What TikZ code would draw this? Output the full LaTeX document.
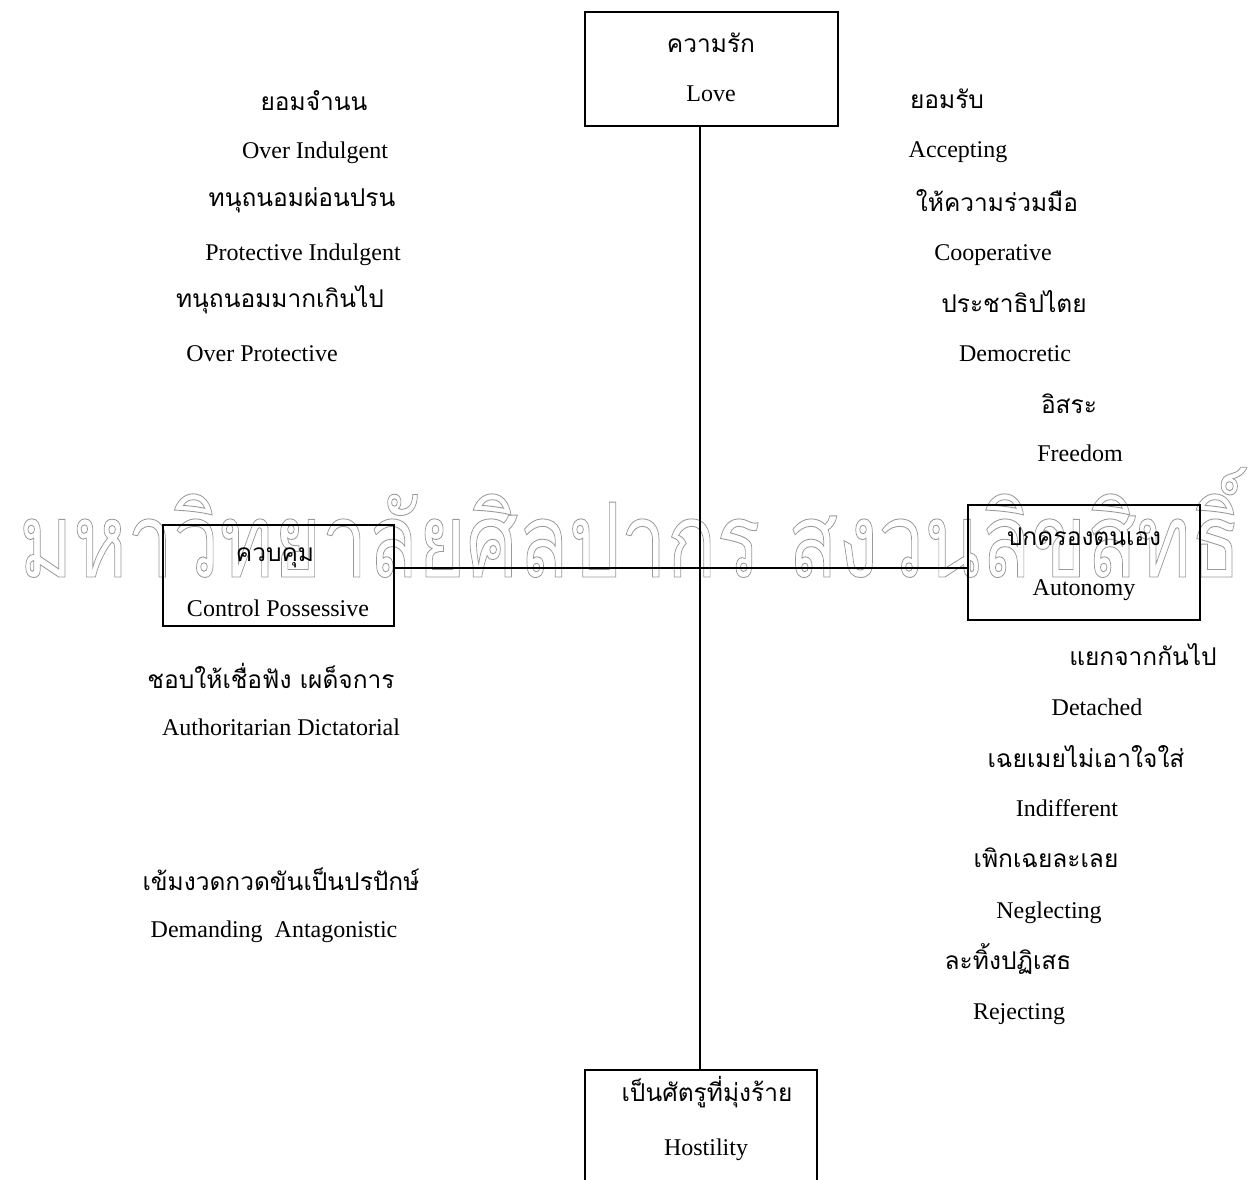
\documentclass[tikz,border=0pt]{standalone}
\usepackage{fontspec}
\usepackage{graphicx}
\setmainfont{Liberation Serif}
\newfontfamily\thai[Script=Thai]{Loma}
\newfontfamily\wmfont[Script=Thai]{Loma}
\newcommand\outlinetext[1]{\special{pdf:literal direct 1 Tr 1.2 w}#1\special{pdf:literal direct 0 Tr}}
\tikzset{
  box/.style={draw, line width=2.4pt, rectangle, inner sep=0pt},
  en/.style={font=\fontsize{24}{28}\selectfont, inner sep=0pt, anchor=base, yshift=-8pt},
  th/.style={font=\thai\fontsize{24.5}{28}\selectfont, inner sep=0pt, anchor=center},
  axis/.style={line width=2.2pt}
}
\begin{document}
\begin{tikzpicture}[x=1pt,y=-1pt]
\useasboundingbox (0,0) rectangle (1248,1180);
% watermark
\node[inner sep=0pt, anchor=base, text=black!40] (wm) at (630,577)
  {\outlinetext{\resizebox{1222pt}{0.74\height}{\wmfont\fontsize{140}{140}\selectfont มหาวิทยาลัยศิลปากร สงวนลิขสิทธิ์}}};
% boxes
\node[box, minimum width=253pt, minimum height=114pt] (love) at (711.5,69) {};
\node[box, minimum width=231pt, minimum height=101pt] (control) at (278.5,575.5) {};
\node[box, minimum width=232pt, minimum height=115pt] (autonomy) at (1084,562.5) {};
\node[box, minimum width=232pt, minimum height=160pt, anchor=north] (hostility) at (701,1069) {};
% axes
\coordinate (vx) at (700,0);
\coordinate (hy) at (0,568);
\draw[axis] (vx |- love.south) -- (vx |- hostility.north);
\draw[axis] (control.east |- hy) -- (autonomy.west |- hy);
% box texts
\node[th] (loveth) at (711,43) {ความรัก};
\node[en] (loveen) at (711,94) {Love};
\node[th] (controlth) at (275,558) {ควบคุม};
\node[en] (controlen) at (278,608) {Control Possessive};
\node[th] (autoth) at (1084,537) {ปกครองตนเอง};
\node[en] (autoen) at (1084,587) {Autonomy};
\node[th] (hostth) at (707,1092) {เป็นศัตรูที่มุ่งร้าย};
\node[en] (hosten) at (706,1147) {Hostility};
% upper left
\node[th] (l1) at (314,101) {ยอมจำนน};
\node[en] (l2) at (315,151) {Over Indulgent};
\node[th] (l3) at (302,200) {ทนุถนอมผ่อนปรน};
\node[en] (l4) at (303,252) {Protective Indulgent};
\node[th] (l5) at (280,300) {ทนุถนอมมากเกินไป};
\node[en] (l6) at (262,353) {Over Protective};
% upper right
\node[th] (r1) at (947,99) {ยอมรับ};
\node[en] (r2) at (958,150) {Accepting};
\node[th] (r3) at (997,201) {ให้ความร่วมมือ};
\node[en] (r4) at (993,252) {Cooperative};
\node[th] (r5) at (1014,302) {ประชาธิปไตย};
\node[en] (r6) at (1015,353) {Democretic};
\node[th] (r7) at (1069,404) {อิสระ};
\node[en] (r8) at (1080,453) {Freedom};
% lower left
\node[th] (ll1) at (271,676) {ชอบให้เชื่อฟัง เผด็จการ};
\node[en] (ll2) at (281,727) {Authoritarian Dictatorial};
\node[th] (ll3) at (281,879) {เข้มงวดกวดขันเป็นปรปักษ์};
\node[en] (ll4) at (274,929) {Demanding\ \ Antagonistic};
% lower right
\node[th] (lr1) at (1143,655) {แยกจากกันไป};
\node[en] (lr2) at (1097,707) {Detached};
\node[th] (lr3) at (1086,757) {เฉยเมยไม่เอาใจใส่};
\node[en] (lr4) at (1067,808) {Indifferent};
\node[th] (lr5) at (1046,858) {เพิกเฉยละเลย};
\node[en] (lr6) at (1049,910) {Neglecting};
\node[th] (lr7) at (1008,959) {ละทิ้งปฏิเสธ};
\node[en] (lr8) at (1019,1011) {Rejecting};
\end{tikzpicture}
\end{document}
